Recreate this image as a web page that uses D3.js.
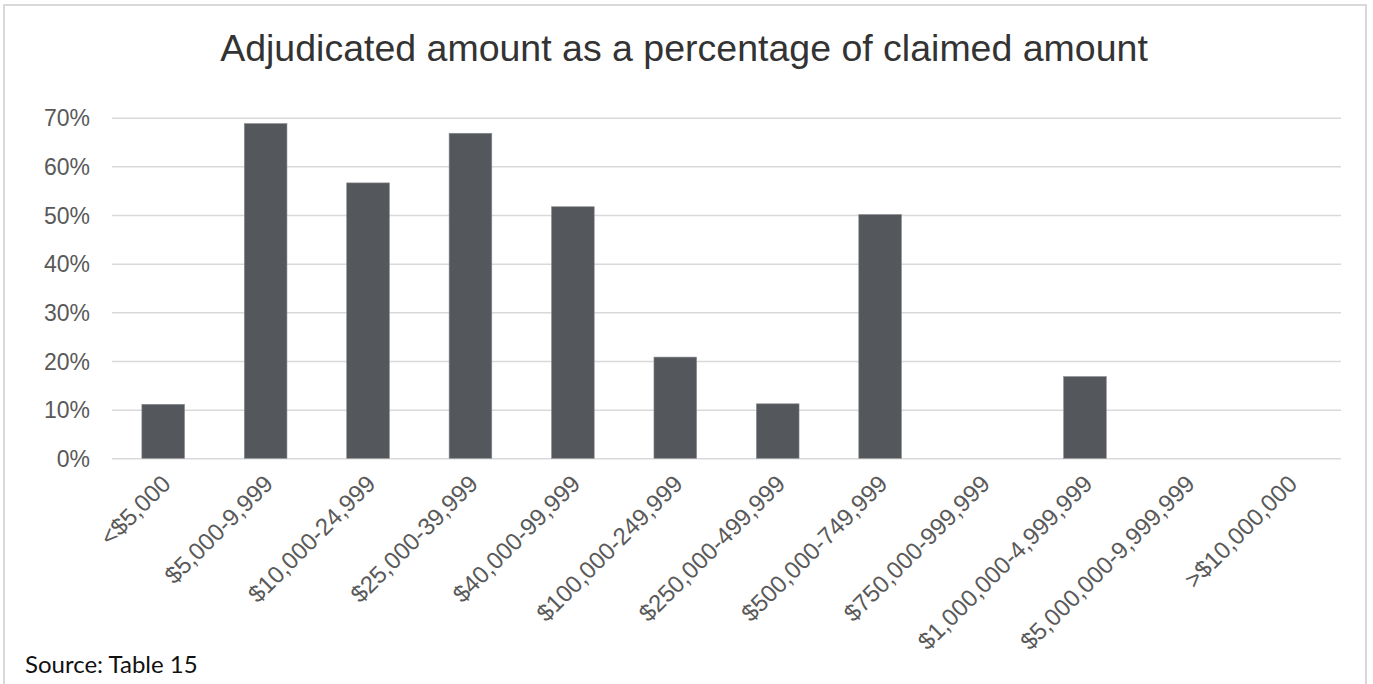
<!DOCTYPE html>
<html>
<head>
<meta charset="utf-8">
<script src="https://cdn.jsdelivr.net/npm/d3@7"></script>
<style>
  html, body { margin: 0; padding: 0; background: #fff; }
  svg { display: block; }
</style>
</head>
<body>
<svg id="chart" width="1373" height="684"></svg>
<script>
const categories = ["<$5,000", "$5,000-9,999", "$10,000-24,999", "$25,000-39,999", "$40,000-99,999",
  "$100,000-249,999", "$250,000-499,999", "$500,000-749,999", "$750,000-999,999",
  "$1,000,000-4,999,999", "$5,000,000-9,999,999", ">$10,000,000"];
const values = [0.111, 0.688, 0.566, 0.668, 0.517, 0.208, 0.112, 0.501, 0, 0.168, 0, 0];
const yTicks = [0, 0.1, 0.2, 0.3, 0.4, 0.5, 0.6, 0.7];
const chartTitle = "Adjudicated amount as a percentage of claimed amount";
const sourceNote = "Source: Table 15";

(function () {
const svg = d3.select("#chart");
const pLeft = 112, pRight = 1341, pTop = 117.7, pBottom = 458.3;

// frame
svg.append("rect").attr("x", 4).attr("y", 5).attr("width", 1362).attr("height", 700)
  .attr("fill", "#fff").attr("stroke", "#d9d9d9").attr("stroke-width", 2);

const x = d3.scaleBand().domain(categories).range([pLeft, pRight]).paddingInner(1.4/2.4).paddingOuter(0.7/2.4);
const y = d3.scaleLinear().domain([0, 0.7]).range([pBottom, pTop]);

// gridlines
const yAxis = d3.axisLeft(y).tickValues(yTicks).tickFormat(d3.format(".0%")).tickSize(-(pRight - pLeft)).tickPadding(22);
const gy = svg.append("g").attr("transform", `translate(${pLeft},0)`).call(yAxis);
gy.select(".domain").remove();
gy.selectAll(".tick line").attr("stroke", "#d9d9d9").attr("stroke-width", 1.5);
gy.selectAll(".tick text").attr("fill", "#595959").style("font-family", "'Liberation Sans', Arial, sans-serif")
  .style("font-size", "23px").attr("x", -22).attr("dy", "0.35em");

// bars
svg.append("g").selectAll("rect").data(values.map((v, i) => ({c: categories[i], v})).filter(d => d.v > 0))
  .join("rect")
  .attr("x", d => x(d.c))
  .attr("y", d => y(d.v))
  .attr("width", x.bandwidth())
  .attr("height", d => y(0) - y(d.v))
  .attr("fill", "#54575b")
  .attr("stroke", "#8a8c8f").attr("stroke-width", 0.6);

// x labels
const xAxis = d3.axisBottom(x).tickSize(0).tickPadding(0);
const gx = svg.append("g").attr("transform", `translate(0,${pBottom})`).call(xAxis);
gx.select(".domain").remove();
gx.selectAll(".tick text")
  .attr("fill", "#595959")
  .style("font-family", "'Liberation Sans', Arial, sans-serif")
  .style("font-size", "24px")
  .attr("text-anchor", "end")
  .attr("transform", "translate(-3,15) rotate(-45)")
  .attr("dy", "0.7em").attr("y", 0).attr("x", 0);

// title
svg.append("text").attr("x", 684).attr("y", 60.7).attr("text-anchor", "middle")
  .attr("fill", "#333333").style("font-family", "'Liberation Sans', Arial, sans-serif").style("font-size", "37.5px")
  .text(chartTitle);

// source
svg.append("text").attr("x", 25).attr("y", 673).attr("fill", "#111")
  .style("font-family", "Lato, 'Noto Sans', sans-serif").style("font-size", "24px")
  .text(sourceNote);
})();
</script>
</body>
</html>
